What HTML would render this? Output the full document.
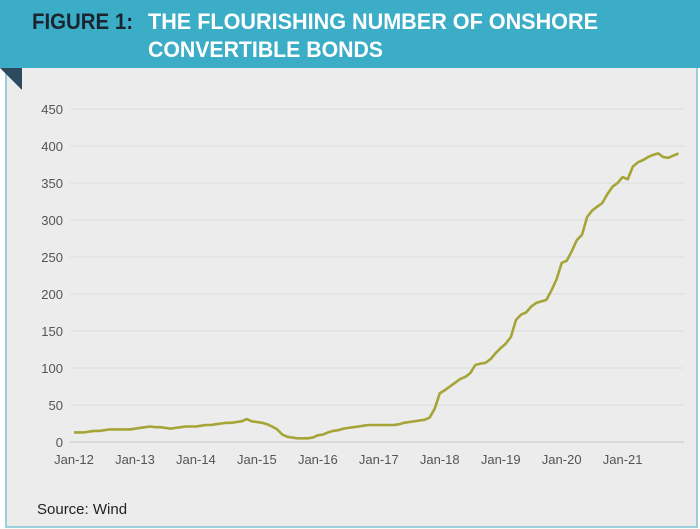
<!DOCTYPE html>
<html><head><meta charset="utf-8"><style>
html,body{margin:0;padding:0;background:#fff;}
svg{display:block;font-family:"Liberation Sans",sans-serif;}
</style></head><body>
<svg id="chart" width="700" height="529" viewBox="0 0 700 529">
<rect x="0" y="0" width="700" height="529" fill="#ffffff"/>
<rect x="6" y="66" width="691" height="461" fill="#ececec" stroke="#7cc3d3" stroke-width="1.5"/>
<rect x="0" y="0" width="700" height="68" fill="#3badc7"/>
<polygon points="0,68 22,68 22,90" fill="#2d4a5f"/>
<text x="32" y="29" font-size="22" font-weight="bold" fill="#1b2530" textLength="101" lengthAdjust="spacingAndGlyphs">FIGURE 1:</text>
<text x="148" y="29" font-size="22" font-weight="bold" fill="#ffffff" textLength="450" lengthAdjust="spacingAndGlyphs">THE FLOURISHING NUMBER OF ONSHORE</text>
<text x="148" y="57" font-size="22" font-weight="bold" fill="#ffffff" textLength="235" lengthAdjust="spacingAndGlyphs">CONVERTIBLE BONDS</text>
<g id="grid"></g>
<g id="yticks"></g>
<g id="xticks"></g>
<path id="line" fill="none" stroke="#a5a537" stroke-width="2.6" stroke-linejoin="round"/>
<text x="37" y="514" font-size="15" fill="#222">Source: Wind</text>
</svg>
<script>
const yTicks=[0,50,100,150,200,250,300,350,400,450];
const xLabels=["Jan-12","Jan-13","Jan-14","Jan-15","Jan-16","Jan-17","Jan-18","Jan-19","Jan-20","Jan-21"];
const values2012=[13,13,13,14,15,15,16,17,17,17,17,17];
const values2013=[18,19,20,21,20,20,19,18,19,20,21,21];
const values2014=[21,22,23,23,24,25,26,26,27,28,31,28];
const values2015=[27,26,24,21,17,10,7,6,5,5,5,6];
const values2016=[9,10,13,15,16,18,19,20,21,22,23,23];
const values2017=[23,23,23,23,24,26,27,28,29,30,33,45];
const values2018=[66,70,75,80,85,88,93,104,106,107,112,120];
const values2019=[127,133,142,165,172,175,183,188,190,192,205,220];
const values2020=[242,245,258,273,280,304,313,318,323,335,345,350];
const values2021=[358,355,372,378,381,385,388,390,385,384,387,390];
const series=[].concat(values2012,values2013,values2014,values2015,values2016,values2017,values2018,values2019,values2020,values2021);
const NS="http://www.w3.org/2000/svg";
const x0=74,monthW=5.08,yBase=442,yTop=109,yMax=450;
function xs(m){return x0+m*monthW;}
function ys(v){return yBase-(v/yMax)*(yBase-yTop);}
const grid=document.getElementById('grid'),yt=document.getElementById('yticks'),xt=document.getElementById('xticks');
yTicks.forEach(t=>{
  const l=document.createElementNS(NS,'line');
  l.setAttribute('x1',70);l.setAttribute('x2',684);
  l.setAttribute('y1',ys(t));l.setAttribute('y2',ys(t));
  l.setAttribute('stroke',t===0?'#c4c4c4':'#dcdcdc');l.setAttribute('stroke-width',1);
  
  
  grid.appendChild(l);
  const tx=document.createElementNS(NS,'text');
  tx.setAttribute('x',63);tx.setAttribute('y',ys(t)+5);
  tx.setAttribute('text-anchor','end');tx.setAttribute('font-size',13);tx.setAttribute('fill','#555');
  tx.textContent=t;
  
  
  yt.appendChild(tx);
});
xLabels.forEach((s,i)=>{
  const tx=document.createElementNS(NS,'text');
  tx.setAttribute('x',xs(i*12));tx.setAttribute('y',464);
  tx.setAttribute('text-anchor','middle');tx.setAttribute('font-size',13);tx.setAttribute('fill','#555');
  tx.textContent=s;
  
  
  xt.appendChild(tx);
});
document.getElementById('line').setAttribute('d',series.map((v,i)=>(i?'L':'M')+xs(i).toFixed(1)+','+ys(v).toFixed(1)).join(''));
</script>
</body></html>
